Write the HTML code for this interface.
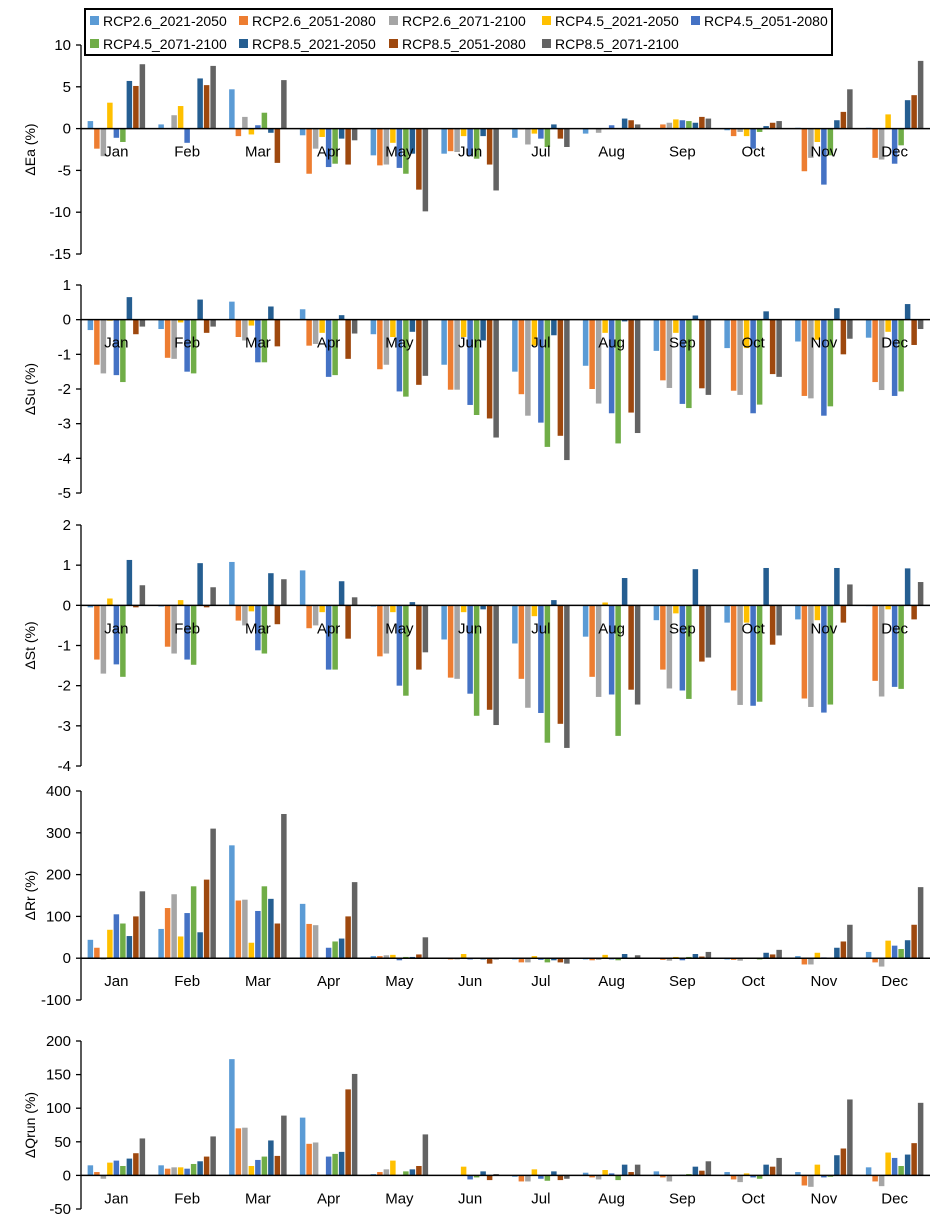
<!DOCTYPE html>
<html><head><meta charset="utf-8"><style>
body{margin:0;background:#fff;font-family:"Liberation Sans",sans-serif}
svg{display:block}
</style></head><body>
<svg id="c" width="941" height="1229" xmlns="http://www.w3.org/2000/svg"></svg>
<script>
const months=["Jan","Feb","Mar","Apr","May","Jun","Jul","Aug","Sep","Oct","Nov","Dec"];
const seriesNames=["RCP2.6_2021-2050","RCP2.6_2051-2080","RCP2.6_2071-2100","RCP4.5_2021-2050","RCP4.5_2051-2080","RCP4.5_2071-2100","RCP8.5_2021-2050","RCP8.5_2051-2080","RCP8.5_2071-2100"];
const colors=["#5B9BD5","#ED7D31","#A5A5A5","#FFC000","#4472C4","#70AD47","#255E91","#9E480E","#636363"];
const eaValues=[[0.9,-2.4,-3.3,3.1,-1.1,-1.6,5.7,5.1,7.7],[0.5,0,1.6,2.7,-1.7,0,6.0,5.2,7.5],[4.7,-0.9,1.4,-0.7,0.4,1.9,-0.5,-4.1,5.8],[-0.8,-5.4,-2.4,-1.0,-4.6,-4.2,-1.2,-4.3,-1.4],[-3.2,-4.4,-4.3,-1.7,-4.7,-5.4,-3,-7.3,-9.9],[-3.0,-2.7,-2.8,-0.9,-3.3,-3.6,-0.9,-4.3,-7.4],[-1.1,-0.1,-1.9,-0.6,-1.2,-2.2,0.5,-1.2,-2.2],[-0.6,0,-0.5,0,0.4,0,1.2,1.0,0.5],[0,0.5,0.7,1.1,1.0,0.9,0.7,1.4,1.2],[-0.2,-0.9,-0.4,-0.9,-2.4,-0.4,0.3,0.7,0.9],[0.1,-5.1,-3.5,-1.6,-6.7,-3.2,1.0,2.0,4.7],[0.1,-3.5,-3.7,1.7,-4.2,-2.0,3.4,4.0,8.1]];
const suValues=[[-0.3,-1.3,-1.55,-0.03,-1.6,-1.8,0.65,-0.42,-0.2],[-0.27,-1.1,-1.13,-0.08,-1.5,-1.55,0.58,-0.38,-0.2],[0.52,-0.5,-0.6,-0.17,-1.23,-1.23,0.38,-0.77,0],[0.3,-0.75,-0.7,-0.38,-1.65,-1.6,0.13,-1.13,-0.4],[-0.42,-1.43,-1.3,-0.5,-2.07,-2.22,-0.35,-1.88,-1.62],[-1.3,-2.02,-2.02,-0.5,-2.46,-2.75,-0.6,-2.85,-3.4],[-1.5,-2.15,-2.77,-0.75,-2.97,-3.67,-0.45,-3.35,-4.05],[-1.33,-2.0,-2.42,-0.38,-2.7,-3.57,-0.05,-2.68,-3.27],[-0.9,-1.75,-1.97,-0.38,-2.43,-2.55,0.12,-1.98,-2.17],[-0.82,-2.05,-2.17,-0.82,-2.7,-2.45,0.24,-1.57,-1.65],[-0.63,-2.2,-2.27,-0.58,-2.77,-2.5,0.33,-1.0,-0.55],[-0.52,-1.8,-2.03,-0.35,-2.2,-2.07,0.45,-0.73,-0.27]];
const stValues=[[-0.05,-1.35,-1.7,0.17,-1.47,-1.78,1.13,-0.05,0.5],[-0.03,-1.03,-1.2,0.13,-1.35,-1.48,1.05,-0.05,0.45],[1.08,-0.38,-0.5,-0.15,-1.12,-1.2,0.8,-0.47,0.65],[0.87,-0.57,-0.5,-0.17,-1.6,-1.6,0.6,-0.83,0.2],[-0.03,-1.27,-1.2,-0.17,-2.0,-2.25,0.08,-1.6,-1.17],[-0.85,-1.8,-1.83,-0.17,-2.2,-2.75,-0.1,-2.6,-2.98],[-0.95,-1.83,-2.55,-0.27,-2.68,-3.42,0.13,-2.95,-3.55],[-0.78,-1.78,-2.28,0.07,-2.22,-3.25,0.68,-2.1,-2.47],[-0.37,-1.6,-2.07,-0.2,-2.12,-2.33,0.9,-1.4,-1.3],[-0.43,-2.12,-2.48,-0.43,-2.5,-2.4,0.93,-0.98,-0.75],[-0.35,-2.32,-2.53,-0.37,-2.67,-2.47,0.93,-0.43,0.52],[-0.02,-1.88,-2.27,-0.1,-2.03,-2.08,0.92,-0.35,0.58]];
const rrValues=[[44,25,-3,68,105,83,53,100,160],[70,120,153,52,108,172,62,188,310],[270,138,140,37,113,172,142,83,345],[130,82,79,0,25,40,47,100,182],[5,5,7,8,-5,3,3,9,50],[-2,-3,-3,10,-3,-2,-3,-13,-3],[-3,-10,-10,5,-4,-10,-5,-10,-13],[-3,-5,-4,8,-3,-5,10,-2,7],[0,-4,-6,3,-5,3,10,4,15],[-3,-4,-6,-2,0,-3,13,9,20],[5,-15,-15,13,2,0,25,40,80],[15,-10,-20,42,30,22,43,80,170]];
const qrunValues=[[15,5,-5,19,22,14,25,33,55],[15,10,12,12,10,17,21,28,58],[173,70,71,14,23,28,52,29,89],[86,47,49,0,28,32,35,128,151],[2,5,9,22,0,6,9,14,61],[0,0,0,13,-6,-3,6,-7,2],[-2,-9,-9,9,-5,-8,6,-7,-5],[4,-3,-6,8,3,-7,16,5,16],[6,-3,-9,0,1,2,13,7,21],[5,-6,-10,3,-3,-5,16,13,26],[5,-15,-17,16,-3,-2,30,40,113],[12,-9,-16,34,26,14,31,48,108]];
const eaTicks=[10,5,0,-5,-10,-15];
const suTicks=[1,0,-1,-2,-3,-4,-5];
const stTicks=[2,1,0,-1,-2,-3,-4];
const rrTicks=[400,300,200,100,0,-100];
const qrunTicks=[200,150,100,50,0,-50];

const NS="http://www.w3.org/2000/svg";
const svg=document.getElementById('c');
function mk(tag,attrs,parent){const e=document.createElementNS(NS,tag);for(const k in attrs)e.setAttribute(k,attrs[k]);(parent||svg).appendChild(e);return e;}

const panels=[
 {key:"ea",title:"ΔEa (%)",vals:eaValues,ticks:eaTicks,top:45,bot:254},
 {key:"su",title:"ΔSu (%)",vals:suValues,ticks:suTicks,top:285,bot:493},
 {key:"st",title:"ΔSt (%)",vals:stValues,ticks:stTicks,top:525,bot:766},
 {key:"rr",title:"ΔRr (%)",vals:rrValues,ticks:rrTicks,top:791,bot:1000},
 {key:"qrun",title:"ΔQrun (%)",vals:qrunValues,ticks:qrunTicks,top:1041,bot:1209}
];
const X0=81,X1=930,catW=(X1-X0)/12,barW=6.5,grpW=barW*9;
panels.forEach(p=>{
 const g=mk('g',{});
 
 
 const vmax=p.ticks[0],vmin=p.ticks[p.ticks.length-1];
 const y=v=>p.top+(vmax-v)/(vmax-vmin)*(p.bot-p.top);
 const y0=y(0);
 p.vals.forEach((row,mi)=>{
  row.forEach((v,si)=>{
   const x=X0+catW*mi+(catW-grpW)/2+si*barW;
   const r=mk('rect',{x:x+0.5,y:Math.min(y(v),y0),width:barW-1,height:Math.abs(y(v)-y0),fill:colors[si]},g);
   
   
  });
 });
 const ya=mk('line',{x1:X0,x2:X0,y1:p.top,y2:p.bot,stroke:'#000','stroke-width':1.3},g);
 
 
 p.ticks.forEach(t=>{
  mk('line',{x1:X0-5,x2:X0,y1:y(t),y2:y(t),stroke:'#000','stroke-width':1.3},g);
  const tx=mk('text',{x:X0-10,y:y(t)+5,'text-anchor':'end','font-size':15,fill:'#000'},g);
  tx.textContent=t;
  
  
 });
 const xa=mk('line',{x1:X0,x2:X1,y1:y0,y2:y0,stroke:'#000','stroke-width':1.5},g);
 
 
 months.forEach((m,mi)=>{
  const tx=mk('text',{x:X0+catW*(mi+0.5),y:y0+28,'text-anchor':'middle','font-size':15,fill:'#000'},g);
  tx.textContent=m;
  
  
 });
 const cy=(p.top+p.bot)/2;
 const at=mk('text',{x:35,y:cy,'text-anchor':'middle','font-size':14,fill:'#000',transform:`rotate(-90 35 ${cy})`},g);
 at.textContent=p.title;
 
 
});
const lg=mk('g',{});


mk('rect',{x:85,y:9,width:747,height:46,fill:'#fff',stroke:'#000','stroke-width':2},lg);
const lx=[90,239,389,542,691];
seriesNames.forEach((n,i)=>{
 const row=Math.floor(i/5),col=i%5;
 const x=lx[col],yy=row?44:21;
 mk('rect',{x:x,y:yy-5,width:9,height:9,fill:colors[i]},lg);
 const t=mk('text',{x:x+13,y:yy+5,'font-size':14,fill:'#000'},lg);
 t.textContent=n;
 
 
});
</script>
</body></html>
